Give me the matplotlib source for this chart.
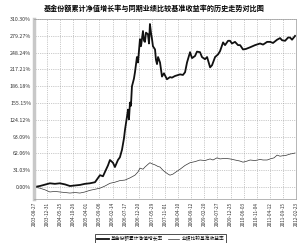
import matplotlib
matplotlib.use("Agg")
import matplotlib.pyplot as plt

plt.rcParams["font.family"] = ["Noto Sans CJK SC", "DejaVu Sans"]

title = "基金份额累计净值增长率与同期业绩比较基准收益率的历史走势对比图"
fund_label = "基金份额累计净值增长率"
bench_label = "业绩比较基准收益率"

date_labels = [
    "2003-08-27", "2003-12-31", "2004-05-25", "2004-10-26", "2005-04-01",
    "2005-09-06", "2006-02-14", "2006-07-17", "2006-12-20", "2007-05-29",
    "2007-11-01", "2008-04-10", "2008-09-12", "2009-02-20", "2009-07-27",
    "2009-12-25", "2010-06-03", "2010-11-04", "2011-04-12", "2011-09-15",
    "2012-02-23",
]
y_ticks = [0.00, 31.03, 62.06, 93.09, 124.12, 155.15, 186.18, 217.21, 248.24, 279.27, 310.30]

# positions measured in units of the date-label spacing
fund_x = [
    0.00, 0.46, 1.22, 1.60, 1.98, 2.37, 2.75, 3.13, 3.51, 3.89, 4.27, 4.66,
    5.04, 5.27, 5.42, 5.65, 5.80, 6.03, 6.18, 6.41, 6.56, 6.72, 6.87, 6.95,
    7.10, 7.18, 7.25, 7.33, 7.40, 7.48, 7.63, 7.71, 7.86, 7.94, 8.09, 8.17,
    8.32, 8.40, 8.47, 8.55, 8.70, 8.78, 8.85, 8.93, 9.01, 9.08, 9.24, 9.31,
    9.39, 9.47, 9.62, 9.77, 9.92, 10.15, 10.38, 10.53, 10.76, 11.15, 11.37,
    11.53, 11.68, 11.91, 12.06, 12.29, 12.44, 12.67, 12.82, 13.05, 13.21,
    13.44, 13.59, 13.82, 14.05, 14.20, 14.43, 14.58, 14.81, 14.96, 15.11,
    15.34, 15.57, 15.73, 15.95, 16.18, 16.49, 16.87, 17.25, 17.48, 17.79,
    18.02, 18.24, 18.55, 18.78, 18.93, 19.16, 19.39, 19.54, 19.69, 19.92,
]
fund_y = [
    0, 2, 7, 6, 7, 5, 2, 3, 4, 6, 7, 9,
    22, 20, 28, 40, 50, 45, 37, 50, 55, 69, 90, 106,
    130, 143, 125, 156, 150, 186, 200, 212, 240, 230, 273, 260,
    288, 270, 268, 285, 282, 265, 301, 285, 273, 260, 254, 235,
    227, 240, 230, 204, 210, 199, 203, 202, 205, 208, 207,
    212, 230, 249, 238, 242, 250, 249, 240, 236, 240,
    221, 225, 240, 245, 251, 267, 262, 270, 270, 265,
    268, 262, 262, 254, 255, 258, 262, 265, 263, 268,
    268, 266, 272, 275, 271, 270, 276, 276, 272, 279,
]

bench_x = [
    0.00, 0.46, 0.84, 1.22, 1.60, 1.98, 2.37, 2.75, 3.13, 3.51, 3.89, 4.27,
    4.66, 5.04, 5.42, 5.80, 6.18, 6.56, 6.95, 7.33, 7.71, 7.94, 8.09, 8.32,
    8.47, 8.70, 8.85, 9.01, 9.24, 9.47, 9.62, 9.85, 10.00, 10.23, 10.38,
    10.61, 10.84, 11.15, 11.53, 11.91, 12.29, 12.67, 13.05, 13.44, 13.66,
    13.97, 14.20, 14.58, 14.96, 15.34, 15.73, 15.95, 16.26, 16.49, 16.87,
    17.25, 17.48, 17.79, 18.02, 18.32, 18.55, 18.78, 19.01, 19.16, 19.54,
    19.77, 19.92,
]
bench_y = [
    0, -2, -5, -9, -8, -9, -10, -11, -10, -11, -9, -6,
    -4, -2, 2, 7, 9, 12, 13, 17, 22, 28, 35, 33,
    37, 42, 45, 43, 41, 38, 37, 31, 28, 24, 22,
    24, 28, 33, 40, 45, 47, 50, 49, 52, 50,
    54, 52, 53, 52, 50, 48, 46, 48, 50, 49,
    51, 50, 50, 52, 54, 59, 57, 58, 58, 61,
    62, 63,
]

fig = plt.figure(figsize=(3.0, 2.43), dpi=100)
ax = fig.add_axes([0.113, 0.181, 0.874, 0.741])

ax.plot(fund_x, fund_y, color="#111111", linewidth=1.3, label=fund_label)
ax.plot(bench_x, bench_y, color="#333333", linewidth=0.5, label=bench_label)

ax.set_xlim(0, len(date_labels) - 1)
ax.set_ylim(-22, 310.3)
ax.set_xticks(range(len(date_labels)))
ax.set_xticklabels(date_labels, rotation=90, fontsize=3.4, color="#333333")
ax.set_yticks(y_ticks)
ax.set_yticklabels([f"{v:.2f}%" for v in y_ticks], fontsize=3.8, color="#333333")
ax.tick_params(length=0, pad=2)
ax.grid(True, linestyle=":", linewidth=0.5, color="#999999")

for side in ["top", "right", "bottom"]:
    ax.spines[side].set_color("#999999")
    ax.spines[side].set_linewidth(0.5)
ax.spines["left"].set_color("#c8c8c8")
ax.spines["left"].set_linewidth(2.5)

fig.text(0.515, 0.965, title, ha="center", va="center", fontsize=5.1, fontweight="bold")

leg = fig.legend(loc="upper center", bbox_to_anchor=(0.535, 0.045), ncol=2,
                 fontsize=3.4, frameon=True, fancybox=False, handlelength=2.5,
                 borderpad=0.4, columnspacing=1.0, handletextpad=0.4)
leg.get_frame().set_edgecolor("black")
leg.get_frame().set_linewidth(0.6)

fig.savefig("out.png", dpi=100)
